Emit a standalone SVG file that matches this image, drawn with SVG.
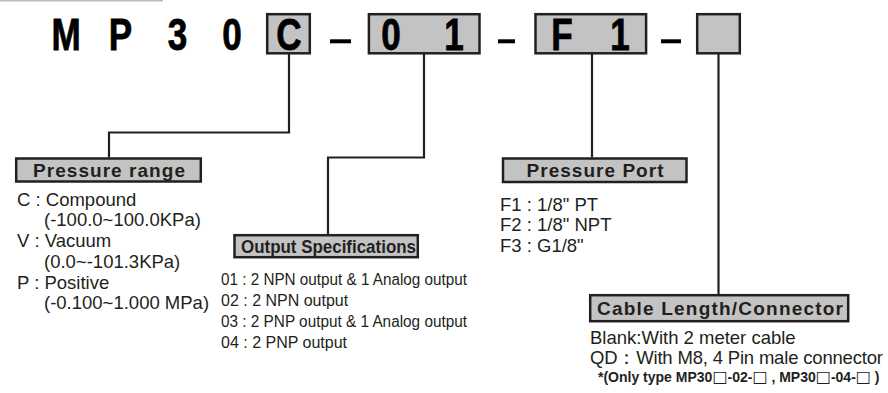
<svg xmlns="http://www.w3.org/2000/svg" width="888" height="393" viewBox="0 0 888 393">
<style>
.bx{fill:#c3c3c3;stroke:#231f20;stroke-width:2.5}
.big{font-family:"Liberation Sans",Arial,sans-serif;font-weight:bold;font-size:45px;fill:#000;stroke:#000;stroke-width:0.8;text-anchor:middle}
.dash{fill:#000}
.hd{font-family:"Liberation Sans",Arial,sans-serif;font-weight:bold;font-size:19px;fill:#231f20;text-anchor:middle}
.tx{font-family:"Liberation Sans",Arial,sans-serif;font-size:18.5px;fill:#231f20}
.tx2{font-family:"Liberation Sans",Arial,sans-serif;font-size:16px;fill:#231f20}
.nt{font-family:"Liberation Sans",Arial,sans-serif;font-weight:bold;font-size:14px;fill:#231f20}
.sq{font-family:"DejaVu Sans",sans-serif;font-weight:normal;font-size:16px}
.cn{fill:none;stroke:#231f20;stroke-width:2.2}
</style>
<line x1="0" y1="0.6" x2="163" y2="0.6" stroke="#bdbdbd" stroke-width="1.6"/>
<g id="code">
<text class="big" transform="translate(66,50) scale(0.78,1)">M</text>
<text class="big" transform="translate(120.5,50) scale(0.78,1)">P</text>
<text class="big" transform="translate(177.5,50) scale(0.78,1)">3</text>
<text class="big" transform="translate(232,50) scale(0.78,1)">0</text>
</g>
<g id="box-c">
<rect class="bx" x="267.2" y="14.2" width="42.6" height="39.1"/>
<text class="big" transform="translate(289,50) scale(0.78,1)">C</text>
</g>
<rect class="dash" x="330" y="39.3" width="21" height="4"/>
<g id="box-01">
<rect class="bx" x="368.9" y="14.2" width="110.6" height="39.1"/>
<text class="big" transform="translate(391,50) scale(0.78,1)">0</text>
<text class="big" transform="translate(454,50) scale(0.78,1)">1</text>
</g>
<rect class="dash" x="498" y="39.3" width="17" height="4"/>
<g id="box-f1">
<rect class="bx" x="535.5" y="14.2" width="110.6" height="39.1"/>
<text class="big" transform="translate(562,50) scale(0.78,1)">F</text>
<text class="big" transform="translate(620,50) scale(0.78,1)">1</text>
</g>
<rect class="dash" x="661" y="39.3" width="20" height="4"/>
<g id="box-blank">
<rect class="bx" x="697.2" y="14.2" width="42.6" height="39.1"/>
</g>
<g id="connectors">
<polyline class="cn" points="289,54 289,132.5 109,132.5 109,157.5"/>
<polyline class="cn" points="424,54 424,157.5 328,157.5 328,234"/>
<polyline class="cn" points="592,54 592,157.5"/>
<polyline class="cn" points="718.5,54 718.5,294.5"/>
</g>
<g id="pressure-range">
<rect class="bx" x="16.2" y="158.5" width="184.6" height="23"/>
<text class="hd" x="109" y="176.5" textLength="152" lengthAdjust="spacing">Pressure range</text>
<text class="tx" x="17" y="205.5">C : Compound</text>
<text class="tx" x="44" y="226.3">(-100.0~100.0KPa)</text>
<text class="tx" x="17" y="247">V : Vacuum</text>
<text class="tx" x="44" y="267.8">(0.0~-101.3KPa)</text>
<text class="tx" x="17" y="288.5">P : Positive</text>
<text class="tx" x="44" y="309.3">(-0.100~1.000 MPa)</text>
</g>
<g id="output-spec">
<rect class="bx" x="234.5" y="235.2" width="183.3" height="22"/>
<text class="hd" x="328.5" y="252.5" textLength="175" lengthAdjust="spacingAndGlyphs">Output Specifications</text>
<text class="tx2" x="221" y="285" textLength="246" lengthAdjust="spacingAndGlyphs">01 : 2 NPN output &amp; 1 Analog output</text>
<text class="tx2" x="221" y="306">02 : 2 NPN output</text>
<text class="tx2" x="221" y="327" textLength="246" lengthAdjust="spacingAndGlyphs">03 : 2 PNP output &amp; 1 Analog output</text>
<text class="tx2" x="221" y="348">04 : 2 PNP output</text>
</g>
<g id="pressure-port">
<rect class="bx" x="503" y="158.5" width="183.5" height="23.5"/>
<text class="hd" x="595" y="176.5" textLength="137" lengthAdjust="spacing">Pressure Port</text>
<text class="tx" x="500" y="210.5">F1 : 1/8" PT</text>
<text class="tx" x="500" y="231">F2 : 1/8" NPT</text>
<text class="tx" x="500" y="251.5">F3 : G1/8"</text>
</g>
<g id="cable">
<rect class="bx" x="590.2" y="295.2" width="258" height="26"/>
<text class="hd" x="720" y="315" textLength="246" lengthAdjust="spacing">Cable Length/Connector</text>
<text class="tx" x="590" y="343.5">Blank:With 2 meter cable</text>
<text class="tx" x="590" y="363.5" textLength="293" lengthAdjust="spacing">QD：With M8, 4 Pin male connector</text>
<text class="nt" x="598" y="382">*(Only type MP30<tspan class="sq">□</tspan>-02-<tspan class="sq">□</tspan> , MP30<tspan class="sq">□</tspan>-04-<tspan class="sq">□</tspan> )</text>
</g>
</svg>
